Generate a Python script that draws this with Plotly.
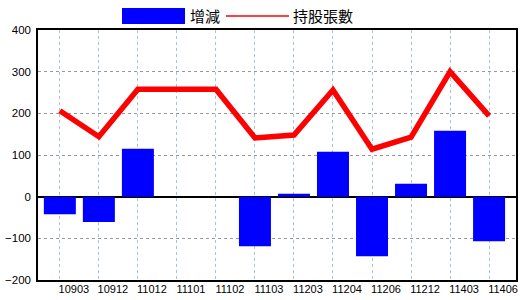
import plotly.graph_objects as go

categories = ["10903", "10912", "11012", "11101", "11102", "11103",
              "11203", "11204", "11206", "11212", "11403", "11406"]
change_values = [-42, -61, 115, 0, 0, -119, 7, 108, -143, 31, 158, -107]
holding_values = [206, 144, 258, 258, 258, 141, 148, 256, 114, 143, 300, 194]
y_ticks = [-200, -100, 0, 100, 200, 300, 400]
legend_names = ["增減", "持股張數"]

BLUE = "#0000FF"
RED = "#FF0000"
CJK = "Noto Sans CJK TC"

fig = go.Figure()
fig.add_trace(go.Bar(x=categories, y=change_values, marker=dict(color=BLUE, line=dict(width=0)),
                     width=0.82, name=legend_names[0], showlegend=False))
fig.add_trace(go.Scatter(x=categories, y=holding_values, mode="lines",
                         line=dict(color=RED, width=5.5), name=legend_names[1], showlegend=False))

fig.update_layout(
    width=520, height=300,
    margin=dict(l=38, r=4, t=30, b=20),
    paper_bgcolor="white", plot_bgcolor="white",
    font=dict(family="Liberation Sans", size=11, color="black"),
    xaxis=dict(
        type="category", range=[-0.56, 11.69], automargin=False,
        showgrid=True, gridcolor="#A8C4D4", griddash="dot", gridwidth=1,
        showline=True, linecolor="black", linewidth=1.5, mirror=True,
        ticks="", ticklabelshift=14, ticklabelstandoff=-2,
        tickfont=dict(family="Liberation Sans", size=11, color="black"),
        fixedrange=True,
    ),
    yaxis=dict(
        range=[-200, 400], tickvals=y_ticks, automargin=False,
        showgrid=True, gridcolor="#999999", griddash="dot", gridwidth=1,
        zeroline=True, zerolinecolor="black", zerolinewidth=1.5,
        showline=True, linecolor="black", linewidth=1.5, mirror=True,
        ticks="", ticklabelstandoff=3,
        tickfont=dict(family="Liberation Sans", size=11.5, color="black"),
    ),
    shapes=[
        dict(type="rect", xref="paper", yref="paper",
             x0=(122 - 38) / 478, x1=(185 - 38) / 478,
             y0=(300 - 20 - 24) / 250, y1=(300 - 20 - 8) / 250,
             fillcolor=BLUE, line=dict(width=0)),
        dict(type="line", xref="paper", yref="paper",
             x0=(226 - 38) / 478, x1=(289 - 38) / 478,
             y0=(300 - 20 - 16) / 250, y1=(300 - 20 - 16) / 250,
             line=dict(color=RED, width=1.5)),
    ],
    annotations=[
        dict(text=legend_names[0], xref="paper", yref="paper",
             x=(188 - 38) / 478, y=(300 - 20 - 16) / 250, xanchor="left", yanchor="middle",
             showarrow=False, font=dict(family=CJK, size=15, color="black")),
        dict(text=legend_names[1], xref="paper", yref="paper",
             x=(291 - 38) / 478, y=(300 - 20 - 16) / 250, xanchor="left", yanchor="middle",
             showarrow=False, font=dict(family=CJK, size=15, color="black")),
    ],
)

fig.write_html("out.html")
